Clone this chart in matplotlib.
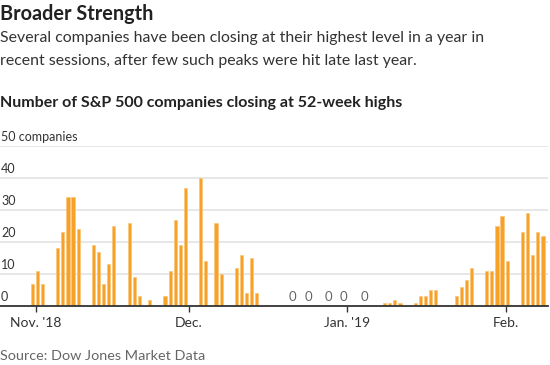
import pandas as pd
import numpy as np
import matplotlib
matplotlib.use("Agg")
import matplotlib.pyplot as plt
import matplotlib.dates as mdates

plt.rcParams["font.family"] = ["Lato", "DejaVu Sans"]

# trading days and number of S&P 500 companies at 52-week highs
dates = ["2018-10-31", "2018-11-01", "2018-11-02",
         "2018-11-05", "2018-11-06", "2018-11-07", "2018-11-08", "2018-11-09",
         "2018-11-12", "2018-11-13", "2018-11-14", "2018-11-15", "2018-11-16",
         "2018-11-19", "2018-11-20", "2018-11-21", "2018-11-23",
         "2018-11-26", "2018-11-27", "2018-11-28", "2018-11-29", "2018-11-30",
         "2018-12-03", "2018-12-04", "2018-12-06", "2018-12-07",
         "2018-12-10", "2018-12-11", "2018-12-12", "2018-12-13", "2018-12-14",
         "2019-01-08", "2019-01-09", "2019-01-10", "2019-01-11",
         "2019-01-14", "2019-01-15", "2019-01-16", "2019-01-17", "2019-01-18",
         "2019-01-22", "2019-01-23", "2019-01-24", "2019-01-25",
         "2019-01-28", "2019-01-29", "2019-01-30", "2019-01-31", "2019-02-01",
         "2019-02-04", "2019-02-05", "2019-02-06", "2019-02-07", "2019-02-08"]
values = [7, 11, 7,
          18, 23, 34, 34, 24,
          19, 17, 7, 13, 25,
          26, 9, 3, 2,
          3, 11, 27, 19, 37,
          40, 14, 26, 10,
          12, 16, 4, 15, 4,
          1, 1, 2, 1,
          1, 3, 3, 5, 5,
          3, 6, 8, 12,
          11, 11, 25, 28, 14,
          23, 29, 16, 23, 22]
zero_dates = ["2018-12-21", "2018-12-24", "2018-12-28", "2018-12-31", "2019-01-04"]

tick_dates = ["2018-11-01", "2018-12-01", "2019-01-01", "2019-02-01"]
tick_labels = ["Nov. '18", "Dec.", "Jan. '19", "Feb."]
y_ticks = [0, 10, 20, 30, 40, 50]

W, H = 550, 365
fig = plt.figure(figsize=(W / 100, H / 100), dpi=100)


def px(x, y):
    return x / W, 1 - y / H


fig.text(*px(0, 14), "Broader Strength", fontsize=14.3, fontweight="bold",
         color="#222222", va="center", ha="left")
fig.text(*px(0, 38), "Several companies have been closing at their highest level in a year in",
         fontsize=11.4, color="#333333", va="center", ha="left")
fig.text(*px(0, 61), "recent sessions, after few such peaks were hit late last year.",
         fontsize=11.4, color="#333333", va="center", ha="left")
fig.text(*px(0, 103), "Number of S&P 500 companies closing at 52-week highs",
         fontsize=11.5, fontweight="bold", color="#222222", va="center", ha="left")
fig.text(*px(0, 356), "Source: Dow Jones Market Data",
         fontsize=10.4, color="#666666", va="center", ha="left")

ax = fig.add_axes([0, (H - 306) / H, 548 / W, 160 / H])

d = pd.to_datetime(dates)
ax.bar(mdates.date2num(d), values, width=0.62, align="edge",
       color="#f7a128", edgecolor="#fbc77a", linewidth=0.5, zorder=3)

for zd in pd.to_datetime(zero_dates):
    ax.text(mdates.date2num(zd) + 0.3, 0.8, "0", ha="center", va="bottom",
            fontsize=9.5, color="#666666")

start = mdates.date2num(pd.Timestamp("2018-11-01"))
ax.set_xlim(start - 6.99, start + 100.3)
ax.set_ylim(0, 50)

for yv in y_ticks[1:]:
    ax.axhline(yv, color="#e3e3e3", lw=1.2, zorder=1)
for yv in y_ticks:
    lab = "50 companies" if yv == 50 else str(yv)
    ax.text(0.002, yv + 0.8, lab, transform=ax.get_yaxis_transform(),
            ha="left", va="bottom", fontsize=9, color="#333333")

ax.set_yticks([])
ax.set_xticks(mdates.date2num(pd.to_datetime(tick_dates)))
ax.set_xticklabels(tick_labels, fontsize=10, color="#333333")
ax.tick_params(axis="x", length=4, width=1, color="#333333", pad=4)

for s in ["top", "right", "left"]:
    ax.spines[s].set_visible(False)
ax.spines["bottom"].set_color("#333333")
ax.spines["bottom"].set_linewidth(1.3)
ax.spines["bottom"].set_zorder(4)
ax.patch.set_alpha(0)

fig.savefig("out.png", dpi=100)
